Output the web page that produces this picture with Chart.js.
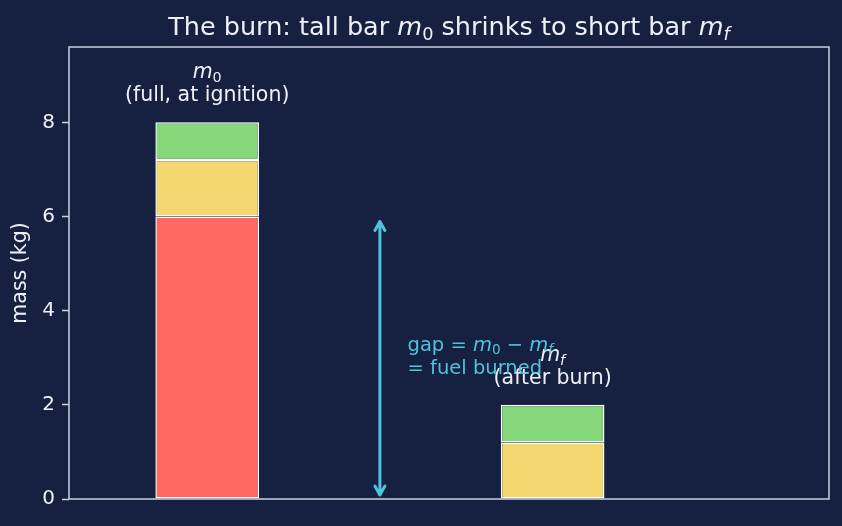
<!DOCTYPE html>
<html>
<head>
<meta charset="utf-8">
<script src="https://cdn.jsdelivr.net/npm/chart.js@4"></script>
<style>
  html, body { margin: 0; padding: 0; background: #162040; }
  #wrap { width: 842px; height: 526px; }
</style>
</head>
<body>
<div id="wrap"><canvas id="canvas"></canvas></div>
<script>
// bar positions on the x axis (0 = full, 1 = after burn)
const barPositions = [0, 1];
const fuelMass = [6, 0];
const structureMass = [1.2, 1.2];
const payloadMass = [0.8, 0.8];
const yTicks = [0, 2, 4, 6, 8];
const gapX = 0.5;
const gapRange = [0, 6];

const BG = "#162040";
const FG = "#eef1f7";
const FRAME = "#c9d1e1";
const CYAN = "#4fc3dc";
const FONT = '"DejaVu Sans", sans-serif';

// pieces: [text, kind] kind = n (normal) | i (italic) | s (subscript) | si (italic subscript)
function fontFor(k, size) {
  if (k === "i") return "oblique " + size + "px " + FONT;
  if (k === "s") return (size * 0.7).toFixed(1) + "px " + FONT;
  if (k === "si") return "oblique " + (size * 0.7).toFixed(1) + "px " + FONT;
  return size + "px " + FONT;
}
function richWidth(ctx, parts, size) {
  let w = 0;
  for (const [t, k] of parts) {
    ctx.font = fontFor(k, size);
    w += ctx.measureText(t).width;
  }
  return w;
}
// y is the text baseline
function drawRich(ctx, parts, x, y, size, align, color) {
  ctx.save();
  ctx.fillStyle = color;
  ctx.textBaseline = "alphabetic";
  ctx.textAlign = "left";
  const w = richWidth(ctx, parts, size);
  let cx = align === "center" ? x - w / 2 : x;
  for (const [t, k] of parts) {
    ctx.font = fontFor(k, size);
    const dy = (k === "s" || k === "si") ? size * 0.18 : 0;
    ctx.fillText(t, cx, y + dy);
    cx += ctx.measureText(t).width;
  }
  ctx.restore();
}

const overlay = {
  id: "overlay",
  afterDraw(chart) {
    const { ctx, chartArea: { top, left, bottom, right }, scales: { x, y } } = chart;
    ctx.save();

    // frame
    ctx.strokeStyle = FRAME;
    ctx.lineWidth = 1.5;
    ctx.strokeRect(left, top, right - left, bottom - top);

    // title
    drawRich(ctx, [["The burn: tall bar ", "n"], ["m", "i"], ["0", "s"],
      [" shrinks to short bar ", "n"], ["m", "i"], ["f", "si"]],
      (left + right) / 2, 35, 25.5, "center", FG);

    // labels above bars
    const totals = barPositions.map((_, i) => fuelMass[i] + structureMass[i] + payloadMass[i]);
    const labels = [
      [[["m", "i"], ["0", "s"]], [["(full, at ignition)", "n"]]],
      [[["m", "i"], ["f", "si"]], [["(after burn)", "n"]]],
    ];
    barPositions.forEach((p, i) => {
      const px = x.getPixelForValue(p);
      const py = y.getPixelForValue(totals[i]);
      drawRich(ctx, labels[i][0], px, py - 44, 20.5, "center", FG);
      drawRich(ctx, labels[i][1], px, py - 21, 20.5, "center", FG);
    });

    // gap arrow
    const ax = x.getPixelForValue(gapX);
    const y0 = y.getPixelForValue(gapRange[0]) - 4;
    const y1 = y.getPixelForValue(gapRange[1]) + 5;
    ctx.strokeStyle = CYAN;
    ctx.lineWidth = 3;
    ctx.lineCap = "round";
    ctx.lineJoin = "round";
    ctx.beginPath();
    ctx.moveTo(ax, y0);
    ctx.lineTo(ax, y1);
    ctx.moveTo(ax - 5, y1 + 9);
    ctx.lineTo(ax, y1);
    ctx.lineTo(ax + 5, y1 + 9);
    ctx.moveTo(ax - 5, y0 - 9);
    ctx.lineTo(ax, y0);
    ctx.lineTo(ax + 5, y0 - 9);
    ctx.stroke();

    // gap annotation
    const tx = x.getPixelForValue(gapX + 0.08);
    const ty = y.getPixelForValue((gapRange[0] + gapRange[1]) / 2);
    drawRich(ctx, [["gap = ", "n"], ["m", "i"], ["0", "s"], [" − ", "n"], ["m", "i"], ["f", "si"]],
      tx, ty - 7, 19.5, "left", CYAN);
    drawRich(ctx, [["= fuel burned", "n"]], tx, ty + 16, 19.5, "left", CYAN);

    ctx.restore();
  },
};

const bgPlugin = {
  id: "bg",
  beforeDraw(chart) {
    const { ctx, width, height } = chart;
    ctx.save();
    ctx.fillStyle = BG;
    ctx.fillRect(0, 0, width, height);
    ctx.restore();
  },
};

function seg(values, color) {
  return {
    data: barPositions.map((p, i) => ({ x: p, y: values[i] })),
    backgroundColor: color,
    borderColor: "#ffffff",
    borderWidth: 1.5,
    borderSkipped: false,
    barPercentage: 0.3,
    categoryPercentage: 1,
  };
}

new Chart(document.getElementById("canvas"), {
  type: "bar",
  data: {
    datasets: [
      seg(fuelMass, "#ff6961"),
      seg(structureMass, "#f4d76e"),
      seg(payloadMass, "#86d67a"),
    ],
  },
  options: {
    responsive: true,
    maintainAspectRatio: false,
    animation: false,
    events: [],
    layout: { padding: { top: 47, right: 13, left: 0, bottom: 0 } },
    plugins: { legend: { display: false }, tooltip: { enabled: false }, title: { display: false } },
    scales: {
      x: {
        type: "linear",
        min: -0.4,
        max: 1.8,
        stacked: true,
        grid: { display: false },
        border: { display: false },
        ticks: { display: false },
        afterBuildTicks(scale) { scale.ticks = []; },
        afterFit(scale) { scale.height = 27; },
      },
      y: {
        min: 0,
        max: 9.6,
        stacked: true,
        afterBuildTicks(scale) { scale.ticks = yTicks.map(v => ({ value: v })); },
        afterFit(scale) { scale.width = 69; },
        border: { display: false },
        grid: { drawOnChartArea: false, drawTicks: true, tickLength: 7, color: FRAME, tickWidth: 1.5 },
        ticks: { color: FG, font: { family: FONT, size: 20 }, padding: 7 },
        title: { display: true, text: "mass (kg)", color: FG, font: { family: FONT, size: 20.5 }, padding: { top: 8, bottom: 0 } },
      },
    },
  },
  plugins: [bgPlugin, overlay],
});
</script>
</body>
</html>
